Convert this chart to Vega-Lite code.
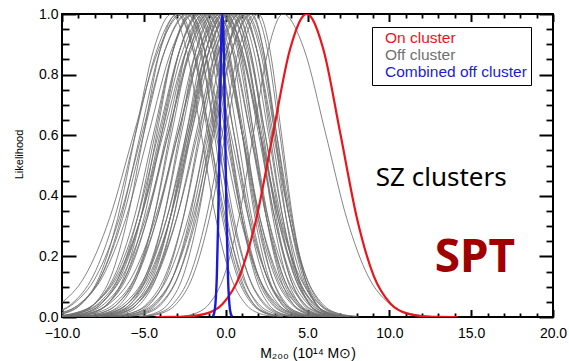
{
"$schema":"https://vega.github.io/schema/vega-lite/v6.json",
"width":491,"height":303,"autosize":"none",
"padding":{"left":62,"top":14,"right":16,"bottom":44},
"background":"white",
"config":{"view":{"stroke":"black","strokeWidth":2},"axis":{"grid":false,"domain":false,"labelFont":"Liberation Sans","titleFont":"Liberation Sans","tickColor":"black","labelColor":"black","titleColor":"black","titleFontWeight":"normal","labelFlush":false,"labelOverlap":false}},
"datasets":{
"gray":[
{"i":1,"x":-11.0,"y":0.002},{"i":1,"x":-9.9,"y":0.011},{"i":1,"x":-8.8,"y":0.044},{"i":1,"x":-7.7,"y":0.135},{"i":1,"x":-6.6,"y":0.325},{"i":1,"x":-5.5,"y":0.607},{"i":1,"x":-4.4,"y":0.882},{"i":1,"x":-3.3,"y":1},{"i":1,"x":-2.4,"y":0.882},{"i":1,"x":-1.5,"y":0.607},{"i":1,"x":-0.6,"y":0.325},{"i":1,"x":0.3,"y":0.135},{"i":1,"x":1.2,"y":0.044},{"i":1,"x":2.1,"y":0.011},{"i":1,"x":3.0,"y":0.002},
{"i":2,"x":-13.1,"y":0.002},{"i":2,"x":-11.6,"y":0.011},{"i":2,"x":-10.1,"y":0.044},{"i":2,"x":-8.6,"y":0.135},{"i":2,"x":-7.1,"y":0.325},{"i":2,"x":-5.6,"y":0.607},{"i":2,"x":-4.1,"y":0.882},{"i":2,"x":-2.6,"y":1},{"i":2,"x":-1.6,"y":0.882},{"i":2,"x":-0.6,"y":0.607},{"i":2,"x":0.4,"y":0.325},{"i":2,"x":1.4,"y":0.135},{"i":2,"x":2.4,"y":0.044},{"i":2,"x":3.4,"y":0.011},{"i":2,"x":4.4,"y":0.002},
{"i":3,"x":-11.2,"y":0.002},{"i":3,"x":-10.0,"y":0.011},{"i":3,"x":-8.8,"y":0.044},{"i":3,"x":-7.6,"y":0.135},{"i":3,"x":-6.4,"y":0.325},{"i":3,"x":-5.2,"y":0.607},{"i":3,"x":-4.0,"y":0.882},{"i":3,"x":-2.8,"y":1},{"i":3,"x":-1.9,"y":0.882},{"i":3,"x":-1.0,"y":0.607},{"i":3,"x":-0.1,"y":0.325},{"i":3,"x":0.8,"y":0.135},{"i":3,"x":1.7,"y":0.044},{"i":3,"x":2.6,"y":0.011},{"i":3,"x":3.5,"y":0.002},
{"i":4,"x":-10,"y":0.002},{"i":4,"x":-9,"y":0.011},{"i":4,"x":-8,"y":0.044},{"i":4,"x":-7,"y":0.135},{"i":4,"x":-6,"y":0.325},{"i":4,"x":-5,"y":0.607},{"i":4,"x":-4,"y":0.882},{"i":4,"x":-3,"y":1},{"i":4,"x":-2,"y":0.882},{"i":4,"x":-1,"y":0.607},{"i":4,"x":0,"y":0.325},{"i":4,"x":1,"y":0.135},{"i":4,"x":2,"y":0.044},{"i":4,"x":3,"y":0.011},{"i":4,"x":4,"y":0.002},
{"i":5,"x":-11.5,"y":0.002},{"i":5,"x":-10.2,"y":0.011},{"i":5,"x":-8.9,"y":0.044},{"i":5,"x":-7.6,"y":0.135},{"i":5,"x":-6.3,"y":0.325},{"i":5,"x":-5.0,"y":0.607},{"i":5,"x":-3.7,"y":0.882},{"i":5,"x":-2.4,"y":1},{"i":5,"x":-1.3,"y":0.882},{"i":5,"x":-0.2,"y":0.607},{"i":5,"x":0.9,"y":0.325},{"i":5,"x":2.0,"y":0.135},{"i":5,"x":3.1,"y":0.044},{"i":5,"x":4.2,"y":0.011},{"i":5,"x":5.3,"y":0.002},
{"i":6,"x":-9.2,"y":0.002},{"i":6,"x":-8.2,"y":0.011},{"i":6,"x":-7.2,"y":0.044},{"i":6,"x":-6.2,"y":0.135},{"i":6,"x":-5.2,"y":0.325},{"i":6,"x":-4.2,"y":0.607},{"i":6,"x":-3.2,"y":0.882},{"i":6,"x":-2.2,"y":1},{"i":6,"x":-1.3,"y":0.882},{"i":6,"x":-0.4,"y":0.607},{"i":6,"x":0.5,"y":0.325},{"i":6,"x":1.4,"y":0.135},{"i":6,"x":2.3,"y":0.044},{"i":6,"x":3.2,"y":0.011},{"i":6,"x":4.1,"y":0.002},
{"i":7,"x":-10.4,"y":0.002},{"i":7,"x":-9.2,"y":0.011},{"i":7,"x":-8.0,"y":0.044},{"i":7,"x":-6.8,"y":0.135},{"i":7,"x":-5.6,"y":0.325},{"i":7,"x":-4.4,"y":0.607},{"i":7,"x":-3.2,"y":0.882},{"i":7,"x":-2.0,"y":1},{"i":7,"x":-1,"y":0.882},{"i":7,"x":0,"y":0.607},{"i":7,"x":1,"y":0.325},{"i":7,"x":2,"y":0.135},{"i":7,"x":3,"y":0.044},{"i":7,"x":4,"y":0.011},{"i":7,"x":5,"y":0.002},
{"i":8,"x":-11.7,"y":0.002},{"i":8,"x":-10.3,"y":0.011},{"i":8,"x":-8.9,"y":0.044},{"i":8,"x":-7.5,"y":0.135},{"i":8,"x":-6.1,"y":0.325},{"i":8,"x":-4.7,"y":0.607},{"i":8,"x":-3.3,"y":0.882},{"i":8,"x":-1.9,"y":1},{"i":8,"x":-0.8,"y":0.882},{"i":8,"x":0.3,"y":0.607},{"i":8,"x":1.4,"y":0.325},{"i":8,"x":2.5,"y":0.135},{"i":8,"x":3.6,"y":0.044},{"i":8,"x":4.7,"y":0.011},{"i":8,"x":5.8,"y":0.002},
{"i":9,"x":-9.4,"y":0.002},{"i":9,"x":-8.3,"y":0.011},{"i":9,"x":-7.2,"y":0.044},{"i":9,"x":-6.1,"y":0.135},{"i":9,"x":-5.0,"y":0.325},{"i":9,"x":-3.9,"y":0.607},{"i":9,"x":-2.8,"y":0.882},{"i":9,"x":-1.7,"y":1},{"i":9,"x":-0.8,"y":0.882},{"i":9,"x":0.1,"y":0.607},{"i":9,"x":1.0,"y":0.325},{"i":9,"x":1.9,"y":0.135},{"i":9,"x":2.8,"y":0.044},{"i":9,"x":3.7,"y":0.011},{"i":9,"x":4.6,"y":0.002},
{"i":10,"x":-10.6,"y":0.002},{"i":10,"x":-9.3,"y":0.011},{"i":10,"x":-8.0,"y":0.044},{"i":10,"x":-6.7,"y":0.135},{"i":10,"x":-5.4,"y":0.325},{"i":10,"x":-4.1,"y":0.607},{"i":10,"x":-2.8,"y":0.882},{"i":10,"x":-1.5,"y":1},{"i":10,"x":-0.5,"y":0.882},{"i":10,"x":0.5,"y":0.607},{"i":10,"x":1.5,"y":0.325},{"i":10,"x":2.5,"y":0.135},{"i":10,"x":3.5,"y":0.044},{"i":10,"x":4.5,"y":0.011},{"i":10,"x":5.5,"y":0.002},
{"i":11,"x":-8.4,"y":0.002},{"i":11,"x":-7.4,"y":0.011},{"i":11,"x":-6.4,"y":0.044},{"i":11,"x":-5.4,"y":0.135},{"i":11,"x":-4.4,"y":0.325},{"i":11,"x":-3.4,"y":0.607},{"i":11,"x":-2.4,"y":0.882},{"i":11,"x":-1.4,"y":1},{"i":11,"x":-0.6,"y":0.882},{"i":11,"x":0.2,"y":0.607},{"i":11,"x":1.0,"y":0.325},{"i":11,"x":1.8,"y":0.135},{"i":11,"x":2.6,"y":0.044},{"i":11,"x":3.4,"y":0.011},{"i":11,"x":4.2,"y":0.002},
{"i":12,"x":-9.6,"y":0.002},{"i":12,"x":-8.4,"y":0.011},{"i":12,"x":-7.2,"y":0.044},{"i":12,"x":-6.0,"y":0.135},{"i":12,"x":-4.8,"y":0.325},{"i":12,"x":-3.6,"y":0.607},{"i":12,"x":-2.4,"y":0.882},{"i":12,"x":-1.2,"y":1},{"i":12,"x":-0.1,"y":0.882},{"i":12,"x":1.0,"y":0.607},{"i":12,"x":2.1,"y":0.325},{"i":12,"x":3.2,"y":0.135},{"i":12,"x":4.3,"y":0.044},{"i":12,"x":5.4,"y":0.011},{"i":12,"x":6.5,"y":0.002},
{"i":13,"x":-8.8,"y":0.002},{"i":13,"x":-7.7,"y":0.011},{"i":13,"x":-6.6,"y":0.044},{"i":13,"x":-5.5,"y":0.135},{"i":13,"x":-4.4,"y":0.325},{"i":13,"x":-3.3,"y":0.607},{"i":13,"x":-2.2,"y":0.882},{"i":13,"x":-1.1,"y":1},{"i":13,"x":-0.2,"y":0.882},{"i":13,"x":0.7,"y":0.607},{"i":13,"x":1.6,"y":0.325},{"i":13,"x":2.5,"y":0.135},{"i":13,"x":3.4,"y":0.044},{"i":13,"x":4.3,"y":0.011},{"i":13,"x":5.2,"y":0.002},
{"i":14,"x":-10.0,"y":0.002},{"i":14,"x":-8.7,"y":0.011},{"i":14,"x":-7.4,"y":0.044},{"i":14,"x":-6.1,"y":0.135},{"i":14,"x":-4.8,"y":0.325},{"i":14,"x":-3.5,"y":0.607},{"i":14,"x":-2.2,"y":0.882},{"i":14,"x":-0.9,"y":1},{"i":14,"x":0.1,"y":0.882},{"i":14,"x":1.1,"y":0.607},{"i":14,"x":2.1,"y":0.325},{"i":14,"x":3.1,"y":0.135},{"i":14,"x":4.1,"y":0.044},{"i":14,"x":5.1,"y":0.011},{"i":14,"x":6.1,"y":0.002},
{"i":15,"x":-7.8,"y":0.002},{"i":15,"x":-6.8,"y":0.011},{"i":15,"x":-5.8,"y":0.044},{"i":15,"x":-4.8,"y":0.135},{"i":15,"x":-3.8,"y":0.325},{"i":15,"x":-2.8,"y":0.607},{"i":15,"x":-1.8,"y":0.882},{"i":15,"x":-0.8,"y":1},{"i":15,"x":0.1,"y":0.882},{"i":15,"x":1.0,"y":0.607},{"i":15,"x":1.9,"y":0.325},{"i":15,"x":2.8,"y":0.135},{"i":15,"x":3.7,"y":0.044},{"i":15,"x":4.6,"y":0.011},{"i":15,"x":5.5,"y":0.002},
{"i":16,"x":-9.0,"y":0.002},{"i":16,"x":-7.8,"y":0.011},{"i":16,"x":-6.6,"y":0.044},{"i":16,"x":-5.4,"y":0.135},{"i":16,"x":-4.2,"y":0.325},{"i":16,"x":-3.0,"y":0.607},{"i":16,"x":-1.8,"y":0.882},{"i":16,"x":-0.6,"y":1},{"i":16,"x":0.2,"y":0.882},{"i":16,"x":1.0,"y":0.607},{"i":16,"x":1.8,"y":0.325},{"i":16,"x":2.6,"y":0.135},{"i":16,"x":3.4,"y":0.044},{"i":16,"x":4.2,"y":0.011},{"i":16,"x":5.0,"y":0.002},
{"i":17,"x":-8.2,"y":0.002},{"i":17,"x":-7.1,"y":0.011},{"i":17,"x":-6.0,"y":0.044},{"i":17,"x":-4.9,"y":0.135},{"i":17,"x":-3.8,"y":0.325},{"i":17,"x":-2.7,"y":0.607},{"i":17,"x":-1.6,"y":0.882},{"i":17,"x":-0.5,"y":1},{"i":17,"x":0.5,"y":0.882},{"i":17,"x":1.5,"y":0.607},{"i":17,"x":2.5,"y":0.325},{"i":17,"x":3.5,"y":0.135},{"i":17,"x":4.5,"y":0.044},{"i":17,"x":5.5,"y":0.011},{"i":17,"x":6.5,"y":0.002},
{"i":18,"x":-9.4,"y":0.002},{"i":18,"x":-8.1,"y":0.011},{"i":18,"x":-6.8,"y":0.044},{"i":18,"x":-5.5,"y":0.135},{"i":18,"x":-4.2,"y":0.325},{"i":18,"x":-2.9,"y":0.607},{"i":18,"x":-1.6,"y":0.882},{"i":18,"x":-0.3,"y":1},{"i":18,"x":0.9,"y":0.882},{"i":18,"x":2.1,"y":0.607},{"i":18,"x":3.3,"y":0.325},{"i":18,"x":4.5,"y":0.135},{"i":18,"x":5.7,"y":0.044},{"i":18,"x":6.9,"y":0.011},{"i":18,"x":8.1,"y":0.002},
{"i":19,"x":-7.2,"y":0.002},{"i":19,"x":-6.2,"y":0.011},{"i":19,"x":-5.2,"y":0.044},{"i":19,"x":-4.2,"y":0.135},{"i":19,"x":-3.2,"y":0.325},{"i":19,"x":-2.2,"y":0.607},{"i":19,"x":-1.2,"y":0.882},{"i":19,"x":-0.2,"y":1},{"i":19,"x":0.7,"y":0.882},{"i":19,"x":1.6,"y":0.607},{"i":19,"x":2.5,"y":0.325},{"i":19,"x":3.4,"y":0.135},{"i":19,"x":4.3,"y":0.044},{"i":19,"x":5.2,"y":0.011},{"i":19,"x":6.1,"y":0.002},
{"i":20,"x":-8.4,"y":0.002},{"i":20,"x":-7.2,"y":0.011},{"i":20,"x":-6.0,"y":0.044},{"i":20,"x":-4.8,"y":0.135},{"i":20,"x":-3.6,"y":0.325},{"i":20,"x":-2.4,"y":0.607},{"i":20,"x":-1.2,"y":0.882},{"i":20,"x":0,"y":1},{"i":20,"x":1,"y":0.882},{"i":20,"x":2,"y":0.607},{"i":20,"x":3,"y":0.325},{"i":20,"x":4,"y":0.135},{"i":20,"x":5,"y":0.044},{"i":20,"x":6,"y":0.011},{"i":20,"x":7,"y":0.002},
{"i":21,"x":-7.6,"y":0.002},{"i":21,"x":-6.5,"y":0.011},{"i":21,"x":-5.4,"y":0.044},{"i":21,"x":-4.3,"y":0.135},{"i":21,"x":-3.2,"y":0.325},{"i":21,"x":-2.1,"y":0.607},{"i":21,"x":-1.0,"y":0.882},{"i":21,"x":0.1,"y":1},{"i":21,"x":0.9,"y":0.882},{"i":21,"x":1.7,"y":0.607},{"i":21,"x":2.5,"y":0.325},{"i":21,"x":3.3,"y":0.135},{"i":21,"x":4.1,"y":0.044},{"i":21,"x":4.9,"y":0.011},{"i":21,"x":5.7,"y":0.002},
{"i":22,"x":-8.8,"y":0.002},{"i":22,"x":-7.5,"y":0.011},{"i":22,"x":-6.2,"y":0.044},{"i":22,"x":-4.9,"y":0.135},{"i":22,"x":-3.6,"y":0.325},{"i":22,"x":-2.3,"y":0.607},{"i":22,"x":-1.0,"y":0.882},{"i":22,"x":0.3,"y":1},{"i":22,"x":1.2,"y":0.882},{"i":22,"x":2.1,"y":0.607},{"i":22,"x":3.0,"y":0.325},{"i":22,"x":3.9,"y":0.135},{"i":22,"x":4.8,"y":0.044},{"i":22,"x":5.7,"y":0.011},{"i":22,"x":6.6,"y":0.002},
{"i":23,"x":-6.6,"y":0.002},{"i":23,"x":-5.6,"y":0.011},{"i":23,"x":-4.6,"y":0.044},{"i":23,"x":-3.6,"y":0.135},{"i":23,"x":-2.6,"y":0.325},{"i":23,"x":-1.6,"y":0.607},{"i":23,"x":-0.6,"y":0.882},{"i":23,"x":0.4,"y":1},{"i":23,"x":1.4,"y":0.882},{"i":23,"x":2.4,"y":0.607},{"i":23,"x":3.4,"y":0.325},{"i":23,"x":4.4,"y":0.135},{"i":23,"x":5.4,"y":0.044},{"i":23,"x":6.4,"y":0.011},{"i":23,"x":7.4,"y":0.002},
{"i":24,"x":-7.8,"y":0.002},{"i":24,"x":-6.6,"y":0.011},{"i":24,"x":-5.4,"y":0.044},{"i":24,"x":-4.2,"y":0.135},{"i":24,"x":-3.0,"y":0.325},{"i":24,"x":-1.8,"y":0.607},{"i":24,"x":-0.6,"y":0.882},{"i":24,"x":0.6,"y":1},{"i":24,"x":1.5,"y":0.882},{"i":24,"x":2.4,"y":0.607},{"i":24,"x":3.3,"y":0.325},{"i":24,"x":4.2,"y":0.135},{"i":24,"x":5.1,"y":0.044},{"i":24,"x":6.0,"y":0.011},{"i":24,"x":6.9,"y":0.002},
{"i":25,"x":-7.0,"y":0.002},{"i":25,"x":-5.9,"y":0.011},{"i":25,"x":-4.8,"y":0.044},{"i":25,"x":-3.7,"y":0.135},{"i":25,"x":-2.6,"y":0.325},{"i":25,"x":-1.5,"y":0.607},{"i":25,"x":-0.4,"y":0.882},{"i":25,"x":0.7,"y":1},{"i":25,"x":1.5,"y":0.882},{"i":25,"x":2.3,"y":0.607},{"i":25,"x":3.1,"y":0.325},{"i":25,"x":3.9,"y":0.135},{"i":25,"x":4.7,"y":0.044},{"i":25,"x":5.5,"y":0.011},{"i":25,"x":6.3,"y":0.002},
{"i":26,"x":-8.2,"y":0.002},{"i":26,"x":-6.9,"y":0.011},{"i":26,"x":-5.6,"y":0.044},{"i":26,"x":-4.3,"y":0.135},{"i":26,"x":-3.0,"y":0.325},{"i":26,"x":-1.7,"y":0.607},{"i":26,"x":-0.4,"y":0.882},{"i":26,"x":0.9,"y":1},{"i":26,"x":1.9,"y":0.882},{"i":26,"x":2.9,"y":0.607},{"i":26,"x":3.9,"y":0.325},{"i":26,"x":4.9,"y":0.135},{"i":26,"x":5.9,"y":0.044},{"i":26,"x":6.9,"y":0.011},{"i":26,"x":7.9,"y":0.002},
{"i":27,"x":-5.9,"y":0.002},{"i":27,"x":-4.9,"y":0.011},{"i":27,"x":-3.9,"y":0.044},{"i":27,"x":-2.9,"y":0.135},{"i":27,"x":-1.9,"y":0.325},{"i":27,"x":-0.9,"y":0.607},{"i":27,"x":0.1,"y":0.882},{"i":27,"x":1.1,"y":1},{"i":27,"x":1.9,"y":0.882},{"i":27,"x":2.7,"y":0.607},{"i":27,"x":3.5,"y":0.325},{"i":27,"x":4.3,"y":0.135},{"i":27,"x":5.1,"y":0.044},{"i":27,"x":5.9,"y":0.011},{"i":27,"x":6.7,"y":0.002},
{"i":28,"x":-7.1,"y":0.002},{"i":28,"x":-5.9,"y":0.011},{"i":28,"x":-4.7,"y":0.044},{"i":28,"x":-3.5,"y":0.135},{"i":28,"x":-2.3,"y":0.325},{"i":28,"x":-1.1,"y":0.607},{"i":28,"x":0.1,"y":0.882},{"i":28,"x":1.3,"y":1},{"i":28,"x":2.2,"y":0.882},{"i":28,"x":3.1,"y":0.607},{"i":28,"x":4.0,"y":0.325},{"i":28,"x":4.9,"y":0.135},{"i":28,"x":5.8,"y":0.044},{"i":28,"x":6.7,"y":0.011},{"i":28,"x":7.6,"y":0.002},
{"i":29,"x":-6.2,"y":0.002},{"i":29,"x":-5.1,"y":0.011},{"i":29,"x":-4.0,"y":0.044},{"i":29,"x":-2.9,"y":0.135},{"i":29,"x":-1.8,"y":0.325},{"i":29,"x":-0.7,"y":0.607},{"i":29,"x":0.4,"y":0.882},{"i":29,"x":1.5,"y":1},{"i":29,"x":2.3,"y":0.882},{"i":29,"x":3.1,"y":0.607},{"i":29,"x":3.9,"y":0.325},{"i":29,"x":4.7,"y":0.135},{"i":29,"x":5.5,"y":0.044},{"i":29,"x":6.3,"y":0.011},{"i":29,"x":7.1,"y":0.002},
{"i":30,"x":-5.2,"y":0.002},{"i":30,"x":-4.2,"y":0.011},{"i":30,"x":-3.2,"y":0.044},{"i":30,"x":-2.2,"y":0.135},{"i":30,"x":-1.2,"y":0.325},{"i":30,"x":-0.2,"y":0.607},{"i":30,"x":0.8,"y":0.882},{"i":30,"x":1.8,"y":1},{"i":30,"x":2.55,"y":0.882},{"i":30,"x":3.3,"y":0.607},{"i":30,"x":4.05,"y":0.325},{"i":30,"x":4.8,"y":0.135},{"i":30,"x":5.55,"y":0.044},{"i":30,"x":6.3,"y":0.011},{"i":30,"x":7.05,"y":0.002},
{"i":31,"x":-5,"y":0.002},{"i":31,"x":-4,"y":0.011},{"i":31,"x":-3,"y":0.044},{"i":31,"x":-2,"y":0.135},{"i":31,"x":-1,"y":0.325},{"i":31,"x":0,"y":0.607},{"i":31,"x":1,"y":0.882},{"i":31,"x":2,"y":1},{"i":31,"x":2.7,"y":0.882},{"i":31,"x":3.4,"y":0.607},{"i":31,"x":4.1,"y":0.325},{"i":31,"x":4.8,"y":0.135},{"i":31,"x":5.5,"y":0.044},{"i":31,"x":6.2,"y":0.011},{"i":31,"x":6.9,"y":0.002},
{"i":32,"x":-2.8,"y":0.002},{"i":32,"x":-1.9,"y":0.011},{"i":32,"x":-1.0,"y":0.044},{"i":32,"x":-0.1,"y":0.135},{"i":32,"x":0.8,"y":0.325},{"i":32,"x":1.7,"y":0.607},{"i":32,"x":2.6,"y":0.882},{"i":32,"x":3.5,"y":1},{"i":32,"x":4.8,"y":0.882},{"i":32,"x":6.1,"y":0.607},{"i":32,"x":7.4,"y":0.325},{"i":32,"x":8.7,"y":0.135},{"i":32,"x":10.0,"y":0.044},{"i":32,"x":11.3,"y":0.011},{"i":32,"x":12.6,"y":0.002},
{"i":33,"x":-12.1,"y":0.002},{"i":33,"x":-10.7,"y":0.011},{"i":33,"x":-9.3,"y":0.044},{"i":33,"x":-7.9,"y":0.135},{"i":33,"x":-6.5,"y":0.325},{"i":33,"x":-5.1,"y":0.607},{"i":33,"x":-3.7,"y":0.882},{"i":33,"x":-2.3,"y":1},{"i":33,"x":-1.5,"y":0.882},{"i":33,"x":-0.7,"y":0.607},{"i":33,"x":0.1,"y":0.325},{"i":33,"x":0.9,"y":0.135},{"i":33,"x":1.7,"y":0.044},{"i":33,"x":2.5,"y":0.011},{"i":33,"x":3.3,"y":0.002},
{"i":34,"x":-10.8,"y":0.002},{"i":34,"x":-9.4,"y":0.011},{"i":34,"x":-8.0,"y":0.044},{"i":34,"x":-6.6,"y":0.135},{"i":34,"x":-5.2,"y":0.325},{"i":34,"x":-3.8,"y":0.607},{"i":34,"x":-2.4,"y":0.882},{"i":34,"x":-1.0,"y":1},{"i":34,"x":0,"y":0.882},{"i":34,"x":1,"y":0.607},{"i":34,"x":2,"y":0.325},{"i":34,"x":3,"y":0.135},{"i":34,"x":4,"y":0.044},{"i":34,"x":5,"y":0.011},{"i":34,"x":6,"y":0.002},
{"i":35,"x":-9.9,"y":0.002},{"i":35,"x":-8.5,"y":0.011},{"i":35,"x":-7.1,"y":0.044},{"i":35,"x":-5.7,"y":0.135},{"i":35,"x":-4.3,"y":0.325},{"i":35,"x":-2.9,"y":0.607},{"i":35,"x":-1.5,"y":0.882},{"i":35,"x":-0.1,"y":1},{"i":35,"x":0.8,"y":0.882},{"i":35,"x":1.7,"y":0.607},{"i":35,"x":2.6,"y":0.325},{"i":35,"x":3.5,"y":0.135},{"i":35,"x":4.4,"y":0.044},{"i":35,"x":5.3,"y":0.011},{"i":35,"x":6.2,"y":0.002},
{"i":36,"x":-5.3,"y":0.002},{"i":36,"x":-4.4,"y":0.011},{"i":36,"x":-3.5,"y":0.044},{"i":36,"x":-2.6,"y":0.135},{"i":36,"x":-1.7,"y":0.325},{"i":36,"x":-0.8,"y":0.607},{"i":36,"x":0.1,"y":0.882},{"i":36,"x":1.0,"y":1},{"i":36,"x":1.9,"y":0.882},{"i":36,"x":2.8,"y":0.607},{"i":36,"x":3.7,"y":0.325},{"i":36,"x":4.6,"y":0.135},{"i":36,"x":5.5,"y":0.044},{"i":36,"x":6.4,"y":0.011},{"i":36,"x":7.3,"y":0.002},
{"i":37,"x":-12.0,"y":0.002},{"i":37,"x":-10.7,"y":0.011},{"i":37,"x":-9.4,"y":0.044},{"i":37,"x":-8.1,"y":0.135},{"i":37,"x":-6.8,"y":0.325},{"i":37,"x":-5.5,"y":0.607},{"i":37,"x":-4.2,"y":0.882},{"i":37,"x":-2.9,"y":1},{"i":37,"x":-2.0,"y":0.882},{"i":37,"x":-1.1,"y":0.607},{"i":37,"x":-0.2,"y":0.325},{"i":37,"x":0.7,"y":0.135},{"i":37,"x":1.6,"y":0.044},{"i":37,"x":2.5,"y":0.011},{"i":37,"x":3.4,"y":0.002},
{"i":38,"x":-9.8,"y":0.002},{"i":38,"x":-8.7,"y":0.011},{"i":38,"x":-7.6,"y":0.044},{"i":38,"x":-6.5,"y":0.135},{"i":38,"x":-5.4,"y":0.325},{"i":38,"x":-4.3,"y":0.607},{"i":38,"x":-3.2,"y":0.882},{"i":38,"x":-2.1,"y":1},{"i":38,"x":-1.3,"y":0.882},{"i":38,"x":-0.5,"y":0.607},{"i":38,"x":0.3,"y":0.325},{"i":38,"x":1.1,"y":0.135},{"i":38,"x":1.9,"y":0.044},{"i":38,"x":2.7,"y":0.011},{"i":38,"x":3.5,"y":0.002},
{"i":39,"x":-10.0,"y":0.002},{"i":39,"x":-8.8,"y":0.011},{"i":39,"x":-7.6,"y":0.044},{"i":39,"x":-6.4,"y":0.135},{"i":39,"x":-5.2,"y":0.325},{"i":39,"x":-4.0,"y":0.607},{"i":39,"x":-2.8,"y":0.882},{"i":39,"x":-1.6,"y":1},{"i":39,"x":-0.7,"y":0.882},{"i":39,"x":0.2,"y":0.607},{"i":39,"x":1.1,"y":0.325},{"i":39,"x":2.0,"y":0.135},{"i":39,"x":2.9,"y":0.044},{"i":39,"x":3.8,"y":0.011},{"i":39,"x":4.7,"y":0.002},
{"i":40,"x":-10.5,"y":0.002},{"i":40,"x":-9.1,"y":0.011},{"i":40,"x":-7.7,"y":0.044},{"i":40,"x":-6.3,"y":0.135},{"i":40,"x":-4.9,"y":0.325},{"i":40,"x":-3.5,"y":0.607},{"i":40,"x":-2.1,"y":0.882},{"i":40,"x":-0.7,"y":1},{"i":40,"x":0.4,"y":0.882},{"i":40,"x":1.5,"y":0.607},{"i":40,"x":2.6,"y":0.325},{"i":40,"x":3.7,"y":0.135},{"i":40,"x":4.8,"y":0.044},{"i":40,"x":5.9,"y":0.011},{"i":40,"x":7.0,"y":0.002},
{"i":41,"x":-7.4,"y":0.002},{"i":41,"x":-6.4,"y":0.011},{"i":41,"x":-5.4,"y":0.044},{"i":41,"x":-4.4,"y":0.135},{"i":41,"x":-3.4,"y":0.325},{"i":41,"x":-2.4,"y":0.607},{"i":41,"x":-1.4,"y":0.882},{"i":41,"x":-0.4,"y":1},{"i":41,"x":0.4,"y":0.882},{"i":41,"x":1.2,"y":0.607},{"i":41,"x":2.0,"y":0.325},{"i":41,"x":2.8,"y":0.135},{"i":41,"x":3.6,"y":0.044},{"i":41,"x":4.4,"y":0.011},{"i":41,"x":5.2,"y":0.002},
{"i":42,"x":-8.2,"y":0.002},{"i":42,"x":-7.0,"y":0.011},{"i":42,"x":-5.8,"y":0.044},{"i":42,"x":-4.6,"y":0.135},{"i":42,"x":-3.4,"y":0.325},{"i":42,"x":-2.2,"y":0.607},{"i":42,"x":-1.0,"y":0.882},{"i":42,"x":0.2,"y":1},{"i":42,"x":1.2,"y":0.882},{"i":42,"x":2.2,"y":0.607},{"i":42,"x":3.2,"y":0.325},{"i":42,"x":4.2,"y":0.135},{"i":42,"x":5.2,"y":0.044},{"i":42,"x":6.2,"y":0.011},{"i":42,"x":7.2,"y":0.002},
{"i":43,"x":-8.6,"y":0.002},{"i":43,"x":-7.3,"y":0.011},{"i":43,"x":-6.0,"y":0.044},{"i":43,"x":-4.7,"y":0.135},{"i":43,"x":-3.4,"y":0.325},{"i":43,"x":-2.1,"y":0.607},{"i":43,"x":-0.8,"y":0.882},{"i":43,"x":0.5,"y":1},{"i":43,"x":1.3,"y":0.882},{"i":43,"x":2.1,"y":0.607},{"i":43,"x":2.9,"y":0.325},{"i":43,"x":3.7,"y":0.135},{"i":43,"x":4.5,"y":0.044},{"i":43,"x":5.3,"y":0.011},{"i":43,"x":6.1,"y":0.002},
{"i":44,"x":-6.2,"y":0.002},{"i":44,"x":-5.2,"y":0.011},{"i":44,"x":-4.2,"y":0.044},{"i":44,"x":-3.2,"y":0.135},{"i":44,"x":-2.2,"y":0.325},{"i":44,"x":-1.2,"y":0.607},{"i":44,"x":-0.2,"y":0.882},{"i":44,"x":0.8,"y":1},{"i":44,"x":1.7,"y":0.882},{"i":44,"x":2.6,"y":0.607},{"i":44,"x":3.5,"y":0.325},{"i":44,"x":4.4,"y":0.135},{"i":44,"x":5.3,"y":0.044},{"i":44,"x":6.2,"y":0.011},{"i":44,"x":7.1,"y":0.002},
{"i":45,"x":-6.5,"y":0.002},{"i":45,"x":-5.4,"y":0.011},{"i":45,"x":-4.3,"y":0.044},{"i":45,"x":-3.2,"y":0.135},{"i":45,"x":-2.1,"y":0.325},{"i":45,"x":-1.0,"y":0.607},{"i":45,"x":0.1,"y":0.882},{"i":45,"x":1.2,"y":1},{"i":45,"x":2.1,"y":0.882},{"i":45,"x":3.0,"y":0.607},{"i":45,"x":3.9,"y":0.325},{"i":45,"x":4.8,"y":0.135},{"i":45,"x":5.7,"y":0.044},{"i":45,"x":6.6,"y":0.011},{"i":45,"x":7.5,"y":0.002},
{"i":46,"x":-10.4,"y":0.002},{"i":46,"x":-9.1,"y":0.011},{"i":46,"x":-7.8,"y":0.044},{"i":46,"x":-6.5,"y":0.135},{"i":46,"x":-5.2,"y":0.325},{"i":46,"x":-3.9,"y":0.607},{"i":46,"x":-2.6,"y":0.882},{"i":46,"x":-1.3,"y":1},{"i":46,"x":-0.4,"y":0.882},{"i":46,"x":0.5,"y":0.607},{"i":46,"x":1.4,"y":0.325},{"i":46,"x":2.3,"y":0.135},{"i":46,"x":3.2,"y":0.044},{"i":46,"x":4.1,"y":0.011},{"i":46,"x":5.0,"y":0.002},
{"i":47,"x":-7.8,"y":0.002},{"i":47,"x":-6.7,"y":0.011},{"i":47,"x":-5.6,"y":0.044},{"i":47,"x":-4.5,"y":0.135},{"i":47,"x":-3.4,"y":0.325},{"i":47,"x":-2.3,"y":0.607},{"i":47,"x":-1.2,"y":0.882},{"i":47,"x":-0.1,"y":1},{"i":47,"x":1.0,"y":0.882},{"i":47,"x":2.1,"y":0.607},{"i":47,"x":3.2,"y":0.325},{"i":47,"x":4.3,"y":0.135},{"i":47,"x":5.4,"y":0.044},{"i":47,"x":6.5,"y":0.011},{"i":47,"x":7.6,"y":0.002},
{"i":48,"x":-6.8,"y":0.002},{"i":48,"x":-5.6,"y":0.011},{"i":48,"x":-4.4,"y":0.044},{"i":48,"x":-3.2,"y":0.135},{"i":48,"x":-2.0,"y":0.325},{"i":48,"x":-0.8,"y":0.607},{"i":48,"x":0.4,"y":0.882},{"i":48,"x":1.6,"y":1},{"i":48,"x":2.3,"y":0.882},{"i":48,"x":3.0,"y":0.607},{"i":48,"x":3.7,"y":0.325},{"i":48,"x":4.4,"y":0.135},{"i":48,"x":5.1,"y":0.044},{"i":48,"x":5.8,"y":0.011},{"i":48,"x":6.5,"y":0.002}
],
"red":[
{"x":-4.275,"y":0.00004},{"x":-3.25,"y":0.0003},{"x":-2.225,"y":0.0022},{"x":-1.2,"y":0.011},{"x":-0.175,"y":0.044},{"x":0.85,"y":0.135},{"x":1.875,"y":0.325},{"x":2.9,"y":0.607},{"x":3.925,"y":0.882},{"x":4.95,"y":1},{"x":5.975,"y":0.882},{"x":7.0,"y":0.607},{"x":8.025,"y":0.325},{"x":9.05,"y":0.135},{"x":10.075,"y":0.044},{"x":11.1,"y":0.011},{"x":12.125,"y":0.0022},{"x":13.15,"y":0.0003},{"x":14.175,"y":0.00004}
],
"blue":[
{"x":-0.795,"y":0.002},{"x":-0.71,"y":0.011},{"x":-0.625,"y":0.044},{"x":-0.54,"y":0.135},{"x":-0.455,"y":0.325},{"x":-0.37,"y":0.607},{"x":-0.285,"y":0.882},{"x":-0.2,"y":1},{"x":-0.115,"y":0.882},{"x":-0.03,"y":0.607},{"x":0.055,"y":0.325},{"x":0.14,"y":0.135},{"x":0.225,"y":0.044},{"x":0.31,"y":0.011},{"x":0.395,"y":0.002}
],
"labels":[{"t":"SZ clusters","x":13.17,"y":0.432},{"t":"SPT","x":15.23,"y":0.1475}]
},
"resolve":{"axis":{"x":"independent","y":"independent"}},
"layer":[
{"data":{"name":"gray"},
 "mark":{"type":"line","clip":true,"interpolate":"monotone","strokeWidth":1,"opacity":0.85},
 "encoding":{
  "x":{"field":"x","type":"quantitative","scale":{"domain":[-10,20],"nice":false,"zero":false},
   "axis":{"orient":"bottom","offset":-7.5,"values":[-10,-5,0,5,10,15,20],"format":".1f","tickSize":7.5,"tickWidth":2,"labelPadding":9,"labelFontSize":14,"title":"M₂₀₀ (10¹⁴ M⊙)","titleFontSize":14,"titleY":47.5,"titleBaseline":"alphabetic"}},
  "y":{"field":"y","type":"quantitative","scale":{"domain":[0,1],"nice":false,"zero":false},
   "axis":{"orient":"left","offset":-14,"values":[0,0.2,0.4,0.6,0.8,1],"format":".1f","tickSize":14,"tickWidth":2,"labelPadding":4,"labelFontSize":14,"title":"Likelihood","titleFontSize":11,"titleX":-56.5,"titleY":140,"titleBaseline":"middle","titleAngle":-90}},
  "detail":{"field":"i","type":"nominal"},
  "color":{"datum":"Off cluster","type":"nominal","scale":{"domain":["On cluster","Off cluster","Combined off cluster"],"range":["#e8161b","#707070","#1b1bd6"]},
   "legend":{"title":null,"orient":"none","legendX":310,"legendY":13,"symbolSize":0,"symbolOpacity":0,"symbolStrokeWidth":0,"labelFont":"Liberation Sans","labelFontSize":15.5,"labelOffset":-6,"padding":3.5,"rowPadding":-4.2,"strokeColor":"black","labelLimit":300,
    "encode":{"labels":{"update":{"fill":{"scale":"color","field":"value"}}}}}}
 }},
{"data":{"name":"red"},
 "mark":{"type":"line","clip":true,"interpolate":"monotone","strokeWidth":2.2},
 "encoding":{
  "x":{"field":"x","type":"quantitative","scale":{"domain":[-10,20],"nice":false,"zero":false},
   "axis":{"orient":"bottom","offset":-4,"values":[-9,-8,-7,-6,-4,-3,-2,-1,1,2,3,4,6,7,8,9,11,12,13,14,16,17,18,19],"tickSize":4,"tickWidth":1.8,"labels":false,"title":null}},
  "y":{"field":"y","type":"quantitative","scale":{"domain":[0,1],"nice":false,"zero":false},
   "axis":{"orient":"left","offset":-7,"values":[0.05,0.1,0.15,0.25,0.3,0.35,0.45,0.5,0.55,0.65,0.7,0.75,0.85,0.9,0.95],"tickSize":7,"tickWidth":1.8,"labels":false,"title":null}},
  "color":{"datum":"On cluster","type":"nominal"}
 }},
{"data":{"name":"blue"},
 "mark":{"type":"line","clip":true,"interpolate":"monotone","strokeWidth":2.4},
 "encoding":{
  "x":{"field":"x","type":"quantitative","scale":{"domain":[-10,20],"nice":false,"zero":false},
   "axis":{"orient":"top","offset":-7.5,"values":[-10,-5,0,5,10,15,20],"tickSize":7.5,"tickWidth":2,"labels":false,"title":null}},
  "y":{"field":"y","type":"quantitative","scale":{"domain":[0,1],"nice":false,"zero":false},
   "axis":{"orient":"right","offset":-14,"values":[0,0.2,0.4,0.6,0.8,1],"tickSize":14,"tickWidth":2,"labels":false,"title":null}},
  "color":{"datum":"Combined off cluster","type":"nominal"}
 }},
{"data":{"name":"labels"},
 "transform":[{"filter":"datum.t === 'SZ clusters'"}],
 "mark":{"type":"text","font":"Noto Sans","fontSize":26,"align":"center","baseline":"alphabetic","color":"black"},
 "encoding":{
  "text":{"field":"t"},
  "x":{"field":"x","type":"quantitative","scale":{"domain":[-10,20],"nice":false,"zero":false},
   "axis":{"orient":"top","offset":-4,"values":[-9,-8,-7,-6,-4,-3,-2,-1,1,2,3,4,6,7,8,9,11,12,13,14,16,17,18,19],"tickSize":4,"tickWidth":1.8,"labels":false,"title":null}},
  "y":{"field":"y","type":"quantitative","scale":{"domain":[0,1],"nice":false,"zero":false},
   "axis":{"orient":"right","offset":-7,"values":[0.05,0.1,0.15,0.25,0.3,0.35,0.45,0.5,0.55,0.65,0.7,0.75,0.85,0.9,0.95],"tickSize":7,"tickWidth":1.8,"labels":false,"title":null}}
 }},
{"data":{"name":"labels"},
 "transform":[{"filter":"datum.t === 'SPT'"}],
 "mark":{"type":"text","font":"Noto Sans","fontSize":46,"fontWeight":"bold","align":"center","baseline":"alphabetic","color":"#a00000"},
 "encoding":{
  "text":{"field":"t"},
  "x":{"field":"x","type":"quantitative","scale":{"domain":[-10,20],"nice":false,"zero":false},"axis":null},
  "y":{"field":"y","type":"quantitative","scale":{"domain":[0,1],"nice":false,"zero":false},"axis":null}
 }}
]
}
